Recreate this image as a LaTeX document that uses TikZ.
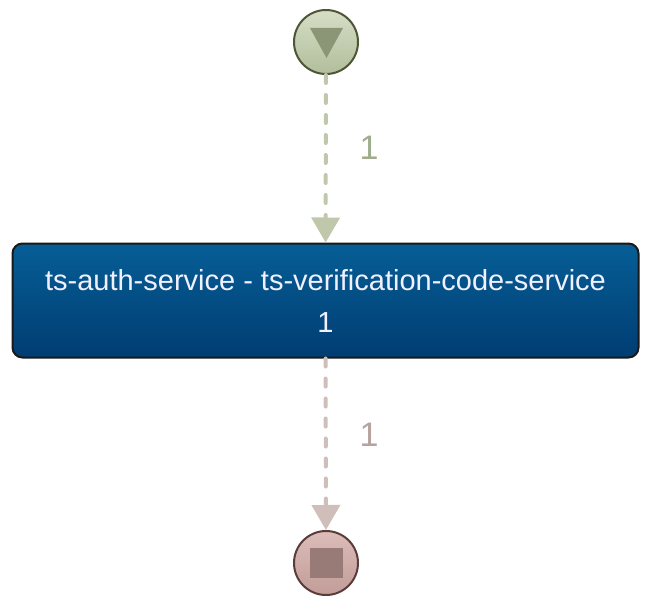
\documentclass[tikz,border=0pt]{standalone}
\usepackage{fontspec}
\setmainfont{Liberation Sans}
\usetikzlibrary{arrows.meta}
\definecolor{startTop}{HTML}{D6DEC6}
\definecolor{startBot}{HTML}{B2BE9C}
\definecolor{startLine}{HTML}{4E5636}
\definecolor{startMark}{HTML}{8A9676}
\definecolor{flowA}{HTML}{BFC8AA}
\definecolor{labA}{HTML}{A0AD8C}
\definecolor{taskTop}{HTML}{065E96}
\definecolor{taskBot}{HTML}{003D72}
\definecolor{flowB}{HTML}{D0BEBB}
\definecolor{labB}{HTML}{B6A29E}
\definecolor{endTop}{HTML}{DCBDB9}
\definecolor{endBot}{HTML}{C29C98}
\definecolor{endLine}{HTML}{5A3C3A}
\definecolor{endMark}{HTML}{987A76}
\tikzset{
  event/.style={circle, minimum size=64pt, inner sep=0pt, line width=2pt},
  taskbox/.style={rectangle, rounded corners=10pt, minimum width=626pt, minimum height=114pt,
    draw=black!90, line width=2pt, top color=taskTop, bottom color=taskBot,
    text=white!94!blue, font=\fontsize{29}{42}\selectfont, align=center,
    execute at begin node={\rule{0pt}{33pt}}},
  flow/.style={line width=4pt, dash pattern=on 8pt off 12pt, line cap=round,
    -{Triangle[length=25pt,width=28pt]}},
  edgelab/.style={font=\fontsize{34}{40}\selectfont, anchor=base}
}
\begin{document}
\begin{tikzpicture}[x=1pt, y=-1pt, line join=round]
  \useasboundingbox (0,0) rectangle (651,602);
  % events and task
  \node[event, draw=startLine, top color=startTop, bottom color=startBot] (start) at (326,42) {};
  \fill[startMark] (310,28) -- (343,28) -- (326.5,58) -- cycle;
  \node[taskbox] (task) at (325.5,300.5) {ts-auth-service - ts-verification-code-service\\1};
  \node[event, draw=endLine, top color=endTop, bottom color=endBot] (end) at (326,563) {};
  \fill[endMark] (310,548) rectangle (343,578);
  % flows
  \draw[flow, flowA] (start) -- (task);
  \draw[flow, flowB] (task) -- (end);
  \node[edgelab, text=labA] (labA) at (369,159) {1};
  \node[edgelab, text=labB] (labB) at (369,446) {1};
\end{tikzpicture}
\end{document}
